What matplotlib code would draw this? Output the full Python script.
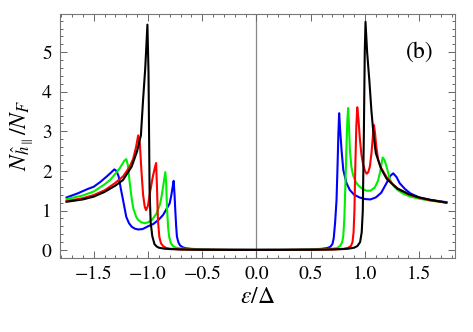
import matplotlib
matplotlib.use("Agg")
import matplotlib.pyplot as plt
from matplotlib.ticker import MultipleLocator

plt.rcParams['font.family'] = ['STIXGeneral', 'DejaVu Serif']
plt.rcParams['mathtext.fontset'] = 'stix'

# values (x = energy / gap, y = DOS / N_F)
black_x = [-1.75, -1.6, -1.5, -1.4, -1.3, -1.23, -1.15, -1.1, -1.065, -1.045, -1.025, -1.005,
           -0.995, -0.99, -0.985, -0.975, -0.96, -0.94, -0.92, -0.9, -0.85, -0.8, -0.7, -0.5, -0.25,
           0.0, 0.25, 0.5, 0.7, 0.8, 0.85, 0.9, 0.93, 0.955, 0.97, 0.98, 0.99, 0.998, 1.005,
           1.02, 1.04, 1.06, 1.08, 1.1, 1.15, 1.2, 1.3, 1.4, 1.5, 1.6, 1.75]
black_y = [1.22, 1.28, 1.35, 1.47, 1.63, 1.77, 2.11, 2.5, 2.9, 3.8, 4.6, 5.7,
           4.5, 3.0, 1.5, 0.7, 0.35, 0.15, 0.09, 0.06, 0.035, 0.025, 0.015, 0.008, 0.005,
           0.004, 0.005, 0.008, 0.015, 0.025, 0.035, 0.06, 0.1, 0.2, 0.45, 1.0, 3.0, 5.0, 5.77,
           5.0, 4.3, 3.5, 2.9, 2.45, 2.05, 1.8, 1.55, 1.42, 1.33, 1.27, 1.2]

red_x = [-1.75, -1.6, -1.5, -1.4, -1.3, -1.23, -1.17, -1.137, -1.11, -1.09, -1.075, -1.06, -1.045,
         -1.03, -1.018, -1.0, -0.983, -0.955, -0.935, -0.925, -0.917, -0.908, -0.895, -0.88, -0.86,
         -0.83, -0.8, -0.7, -0.5, -0.25,
         0.0, 0.25, 0.5, 0.7, 0.8, 0.84, 0.87, 0.885, 0.895, 0.903, 0.91, 0.92, 0.929, 0.94, 0.954,
         0.968, 0.983, 1.0, 1.015, 1.03, 1.045, 1.06, 1.072, 1.083, 1.093, 1.103, 1.12, 1.14, 1.17,
         1.2, 1.25, 1.3, 1.4, 1.5, 1.6, 1.75]
red_y = [1.24, 1.31, 1.39, 1.51, 1.7, 1.86, 2.1, 2.3, 2.6, 2.9, 2.7, 2.0, 1.4,
         1.1, 1.01, 1.12, 1.43, 1.86, 2.1, 2.2, 1.6, 0.75, 0.33, 0.17, 0.1,
         0.05, 0.035, 0.015, 0.008, 0.005,
         0.004, 0.005, 0.008, 0.015, 0.03, 0.05, 0.1, 0.2, 0.45, 1.0, 2.0, 3.1, 3.61, 3.3, 2.78,
         2.4, 2.17, 2.0, 1.93, 1.97, 2.11, 2.45, 2.85, 3.16, 2.95, 2.65, 2.3, 2.12, 1.98,
         1.84, 1.68, 1.56, 1.41, 1.32, 1.26, 1.2]

green_x = [-1.75, -1.6, -1.5, -1.4, -1.35, -1.3, -1.26, -1.22, -1.2, -1.185, -1.17, -1.15, -1.135,
           -1.11, -1.09, -1.06, -1.03, -1.0, -0.96, -0.92, -0.89, -0.875, -0.855, -0.84, -0.832,
           -0.825, -0.815, -0.805, -0.79, -0.77, -0.74, -0.7, -0.6, -0.4, -0.2,
           0.0, 0.2, 0.4, 0.6, 0.7, 0.74, 0.77, 0.79, 0.8, 0.81, 0.818, 0.828, 0.838, 0.845, 0.852,
           0.861, 0.875, 0.89, 0.915, 0.94, 0.98, 1.015, 1.05, 1.09, 1.12, 1.14, 1.163, 1.18, 1.2,
           1.23, 1.26, 1.3, 1.35, 1.42, 1.5, 1.6, 1.75]
green_y = [1.29, 1.38, 1.48, 1.66, 1.77, 1.93, 2.07, 2.25, 2.3, 2.15, 1.75, 1.3, 1.05,
           0.85, 0.76, 0.7, 0.68, 0.7, 0.77, 0.93, 1.15, 1.35, 1.7, 1.97, 1.7,
           1.1, 0.6, 0.34, 0.18, 0.1, 0.06, 0.04, 0.02, 0.01, 0.006,
           0.005, 0.006, 0.01, 0.02, 0.035, 0.05, 0.1, 0.2, 0.35, 0.8, 1.5, 2.5, 3.3, 3.59, 3.2,
           2.53, 2.1, 1.9, 1.72, 1.63, 1.54, 1.5, 1.5, 1.58, 1.75, 1.98, 2.34, 2.28, 2.1,
           1.78, 1.63, 1.52, 1.43, 1.35, 1.3, 1.25, 1.2]

blue_x = [-1.75, -1.65, -1.55, -1.5, -1.44, -1.38, -1.34, -1.31, -1.29, -1.27, -1.25, -1.23, -1.2,
          -1.175, -1.15, -1.12, -1.09, -1.05, -1.0, -0.95, -0.9, -0.86, -0.82, -0.8, -0.785, -0.775,
          -0.763, -0.755, -0.748, -0.74, -0.733, -0.72, -0.705, -0.68, -0.65, -0.6, -0.5, -0.35, -0.2,
          0.0, 0.2, 0.35, 0.5, 0.6, 0.65, 0.68, 0.7, 0.712, 0.725, 0.738, 0.748, 0.755, 0.762, 0.772,
          0.785, 0.8, 0.83, 0.86, 0.9, 0.95, 1.0, 1.05, 1.1, 1.15, 1.2, 1.235, 1.26, 1.29, 1.32,
          1.37, 1.42, 1.5, 1.6, 1.75]
blue_y = [1.33, 1.43, 1.55, 1.6, 1.72, 1.86, 1.96, 2.04, 2.0, 1.86, 1.55, 1.27, 0.84,
          0.68, 0.59, 0.54, 0.52, 0.53, 0.6, 0.66, 0.77, 0.89, 1.08, 1.18, 1.38, 1.55,
          1.75, 1.4, 1.0, 0.6, 0.34, 0.2, 0.12, 0.07, 0.045, 0.03, 0.018, 0.01, 0.007,
          0.006, 0.007, 0.01, 0.018, 0.03, 0.05, 0.08, 0.15, 0.3, 0.7, 1.27, 2.2, 2.95, 3.46, 3.0,
          2.5, 2.03, 1.69, 1.52, 1.4, 1.33, 1.29, 1.28, 1.33, 1.45, 1.7, 1.88, 1.94, 1.85, 1.69,
          1.54, 1.43, 1.33, 1.27, 1.21]

x_ticks = [-1.5, -1.0, -0.5, 0.0, 0.5, 1.0, 1.5]
y_ticks = [0, 1, 2, 3, 4, 5]

fig = plt.figure(figsize=(4.73, 3.32), dpi=100)
ax = fig.add_axes([0.127, 0.223, 0.835, 0.735])

ax.axvline(0, color='#888888', linewidth=0.9, zorder=1)

lw = 1.5
ax.plot(blue_x, blue_y, color='#0000ff', linewidth=lw, zorder=2)
ax.plot(green_x, green_y, color='#00ee00', linewidth=lw, zorder=3)
ax.plot(red_x, red_y, color='#ff0000', linewidth=lw, zorder=4)
ax.plot(black_x, black_y, color='black', linewidth=lw, zorder=5)

ax.set_xlim(-1.81, 1.83)
ax.set_ylim(-0.2, 5.97)

ax.set_xticks(x_ticks)
ax.set_xticklabels(['\u22121.5', '\u22121.0', '\u22120.5', '0.0', '0.5', '1.0', '1.5'])
ax.set_yticks(y_ticks)
ax.xaxis.set_minor_locator(MultipleLocator(0.1))
ax.yaxis.set_minor_locator(MultipleLocator(0.2))

ax.tick_params(which='both', direction='in', top=True, right=True, color='#666666',
               labelsize=14, width=0.7)
ax.tick_params(which='major', length=5, pad=6)
ax.tick_params(which='minor', length=2.5)
for sp in ax.spines.values():
    sp.set_color('#777777')
    sp.set_linewidth(0.8)

ax.set_xlabel(r'$\varepsilon/\Delta$', fontsize=17, labelpad=2)
ax.set_ylabel(r'$N_{\hat{h}_{\parallel}}/N_F$', fontsize=17, labelpad=4)

ax.text(0.91, 0.845, '(b)', transform=ax.transAxes, fontsize=17, ha='center', va='center')

fig.savefig('out.png', dpi=100)
